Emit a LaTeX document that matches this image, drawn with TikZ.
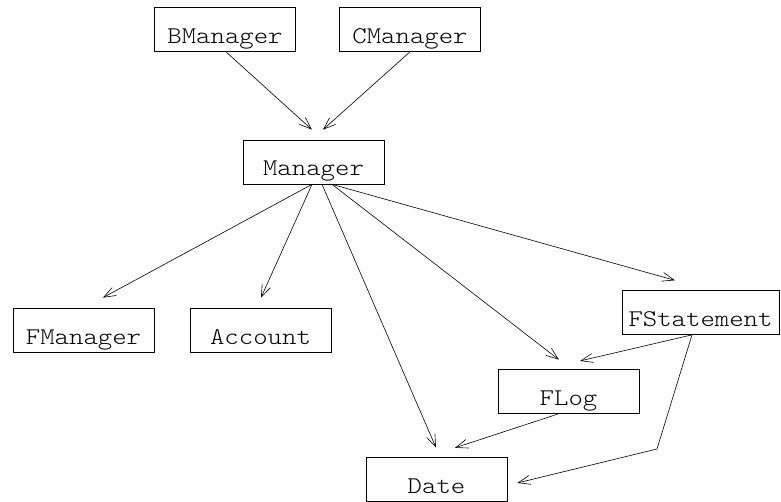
\documentclass[tikz,border=0pt]{standalone}
\usepackage{fontspec}
\newfontfamily\clsfont[FakeStretch=1.143]{Latin Modern Mono Light}
\usetikzlibrary{arrows.meta,calc}
\begin{document}
\begin{tikzpicture}[x=1pt,y=-1pt,
  cls/.style={draw, line width=0.7pt, font=\clsfont\fontsize{24}{24}\selectfont,
    inner xsep=0pt, inner ysep=0pt, minimum width=141pt,
    text height=36pt, text depth=8pt},
  dep/.style={line width=0.6pt, -{Straight Barb[length=12pt,width=9pt]}}]
\useasboundingbox (0,0) rectangle (781,502);

% classes
\node[cls] (BM)  at (225,29.5)  {BManager};
\node[cls] (CM)  at (410,29.5)  {CManager};
\node[cls] (M)   at (313.5,162) {Manager};
\node[cls] (FM)  at (83.5,330)  {FManager};
\node[cls] (Acc) at (260.5,330) {Account};
\node[cls, minimum width=157pt] (FS) at (700.5,312.5) {FStatement};
\node[cls] (FL)  at (568.5,391) {FLog};
\node[cls] (D)   at (436.5,479) {Date};
\coordinate (bend) at (657,449);

% dependencies
\draw[dep, shorten >=15pt] ([xshift=1pt]BM.south) -- ([xshift=9.5pt]M.north);
\draw[dep, shorten >=15pt] (CM.south) -- ([xshift=-1.7pt]M.north);
\draw[dep, shorten >=21pt] ([xshift=-1.5pt]M.south) -- ([xshift=1pt]FM.north);
\draw[dep, shorten >=11pt] ([xshift=-1.5pt]M.south) -- ([xshift=-4pt]Acc.north);
\draw[dep, shorten >=10pt] ([xshift=8.5pt]M.south) -- ([xshift=3.4pt]D.north);
\draw[dep, shorten >=14.7pt] ([xshift=18.5pt]M.south) -- ([xshift=2pt]FL.north);
\draw[dep, shorten >=36.5pt] ([xshift=18.5pt]M.south) -- ([xshift=9.5pt]FS.north);
\draw[dep, shorten >=34pt] ([xshift=-8.5pt]FS.south) -- ([xshift=-21.5pt]FL.north);
\draw[dep, shorten >=28.5pt] ([xshift=-8.5pt]FL.south) -- ([xshift=-8.5pt]D.north);
\draw[dep, shorten >=10.3pt] ([xshift=-8.5pt]FS.south) -- (bend) -- ($(D.east)+(0,6.4)$);
\end{tikzpicture}
\end{document}
